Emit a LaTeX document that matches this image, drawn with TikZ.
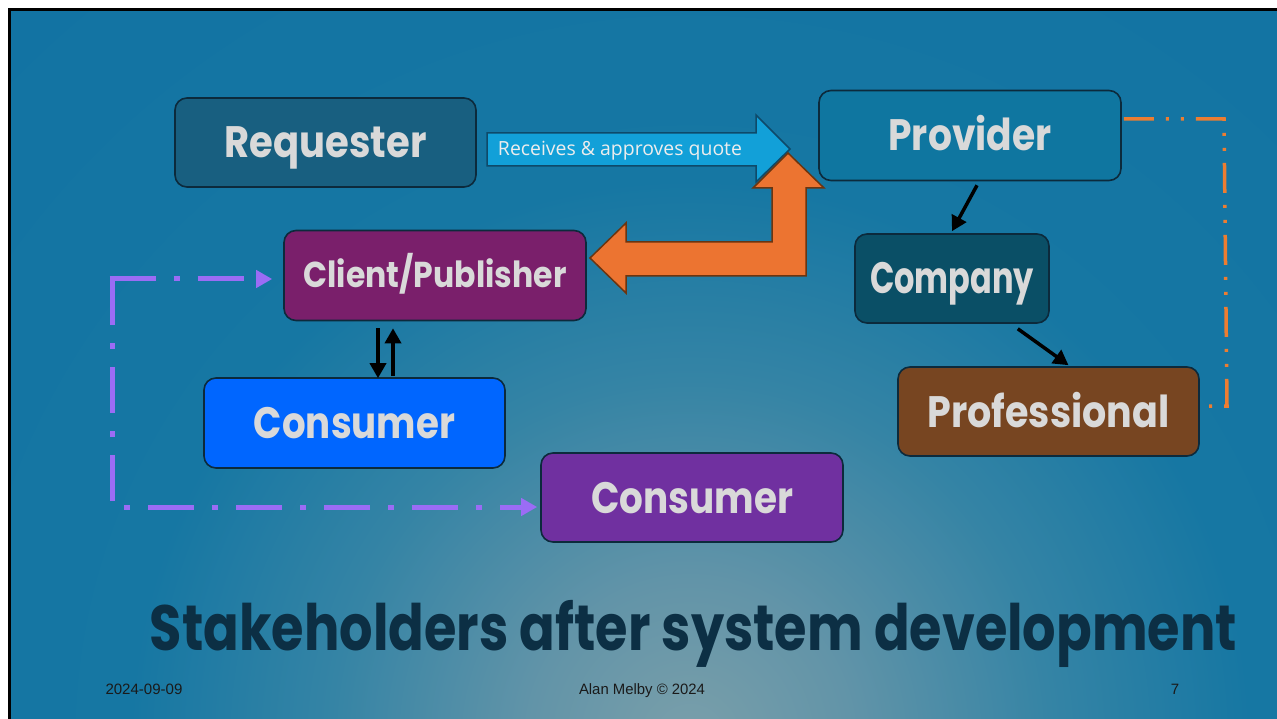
\documentclass[tikz,border=0pt]{standalone}
\usepackage{fontspec}
\usepackage{graphicx}
\usetikzlibrary{arrows.meta}
\newfontfamily\boxfont{Poppins}
\newfontfamily\lblfont{Open Sans}
\newfontfamily\footfont{Liberation Sans}
\definecolor{bgA}{HTML}{7A9FAA}
\definecolor{bgB}{HTML}{6294A8}
\definecolor{bgC}{HTML}{3584A5}
\definecolor{bgD}{HTML}{1677A3}
\definecolor{bgE}{HTML}{1273A3}
\definecolor{bgF}{HTML}{2166A6}
\definecolor{boxline}{HTML}{0C2A3C}
\definecolor{txtgrey}{HTML}{D9D9D9}
\definecolor{reqfill}{HTML}{185F80}
\definecolor{provfill}{HTML}{0F76A0}
\definecolor{compfill}{HTML}{0A4F66}
\definecolor{proffill}{HTML}{774521}
\definecolor{clientfill}{HTML}{7A1F6B}
\definecolor{consAfill}{HTML}{0066FF}
\definecolor{consBfill}{HTML}{7030A0}
\definecolor{bluearrow}{HTML}{12A0D8}
\definecolor{bluearrowline}{HTML}{0E4A6A}
\definecolor{orangefill}{HTML}{EC7431}
\definecolor{orangeline}{HTML}{6B3510}
\definecolor{orangedash}{HTML}{ED7D31}
\definecolor{purpledash}{HTML}{9B6CF5}
\definecolor{titlecol}{HTML}{0C2F44}
\definecolor{footcol}{HTML}{1A1A1A}
\pgfdeclareradialshading{bgshade}{\pgfpointorigin}{color(0bp)=(bgA); color(4bp)=(bgB); color(9bp)=(bgC); color(14bp)=(bgD); color(25bp)=(bgE); color(50bp)=(bgF)}
\newcommand\fitw[2]{\resizebox{#1}{\height}{#2}}
\tikzset{
  box/.style={draw=boxline, line width=1.6pt, rounded corners=12pt,
    minimum width=301pt, minimum height=89pt, inner sep=0pt, text=txtgrey,
    font=\boxfont\bfseries\fontsize{44}{44}\selectfont, text height=31pt, text depth=0pt},
  blk/.style={line width=3.5pt, -{Triangle[length=15pt,width=16pt]}},
  pdash/.style={draw=purpledash, line width=5pt, dash pattern=on 46pt off 18pt on 6pt off 18pt,
    -{Triangle[length=16pt,width=17pt]}},
  odash/.style={draw=orangedash, line width=3.5pt, dash pattern=on 30pt off 12pt on 3pt off 12pt on 3pt off 12pt},
  foot/.style={font=\footfont\fontsize{15}{15}\selectfont, text=footcol, inner sep=0pt, text height=11pt, text depth=0pt}
}
\begin{document}
\begin{tikzpicture}[x=1pt,y=-1pt]
\useasboundingbox (0,0) rectangle (1277,719);
% background
\begin{scope}
\clip (9.5,9.5) rectangle (1290,730);
\fill[bgF] (9.5,9.5) rectangle (1290,730);
\shade[shading=bgshade] (690,740) circle (1000pt);
\end{scope}
\draw[black, line width=3pt] (9.5,9.5) rectangle (1290,730);

% boxes
\node[box, fill=reqfill] (req) at (325.5,142.5) {\fitw{202pt}{Requester}};
\node[box, fill=provfill, minimum width=302pt, minimum height=90pt] (prov) at (970,135.5) {\fitw{163pt}{Provider}};
\node[box, fill=compfill, minimum width=194pt] (comp) at (952,278.5) {\fitw{164pt}{Company}};
\node[box, fill=proffill] (prof) at (1048.5,411.5) {\fitw{242pt}{Professional}};
\node[box, fill=clientfill, minimum width=302pt, minimum height=90pt,
  font=\boxfont\bfseries\fontsize{36}{36}\selectfont, text height=25pt] (client) at (435,275.5) {\fitw{263pt}{Client/Publisher}};
\node[box, fill=consAfill, minimum height=90pt] (consA) at (354.5,423) {\fitw{201pt}{Consumer}};
\node[box, fill=consBfill, minimum width=302pt] (consB) at (692,497.5) {\fitw{202pt}{Consumer}};

% blue block arrow
\draw[fill=bluearrow, draw=bluearrowline, line width=1.5pt, line join=miter]
  (487,133) -- (756,133) -- (756,115) -- (790,149) -- (756,182) -- (756,166) -- (487,166) -- cycle;
\node[font=\lblfont\fontsize{19.5}{19.5}\selectfont, text=white!93!black, inner sep=0pt,
  text height=14pt, text depth=0pt] (lbl) at (620,149) {\fitw{244pt}{Receives \& approves quote}};

% orange bent double arrow
\draw[fill=orangefill, draw=orangeline, line width=1.5pt, line join=miter]
  (590,258) -- (626,223) -- (626,242) -- (772,242) -- (772,188) -- (753,188) -- (788,153)
  -- (824,188) -- (806,188) -- (806,276) -- (626,276) -- (626,293) -- cycle;

% black arrows
\draw[blk] ([shift={(7,4)}]prov.south) -- ([shift={(0,-2)}]comp.north);
\draw[blk] ([shift={(-32,5)}]comp.south east) -- ([shift={(20,-1)}]prof.north);
\draw[blk] ([shift={(-57,7)}]client.south) -- ([shift={(23.5,1)}]consA.north);
\draw[blk] ([shift={(38.5,-1)}]consA.north) -- ([shift={(-42,7)}]client.south);

% purple dash-dot connectors
\coordinate (pc1) at (112,279);
\coordinate (pc2) at (112,507);
\draw[pdash, shorten >=11pt] ([xshift=-2.5pt]pc1) -- (pc1 -| client.west);
\draw[pdash, shorten >=3pt] (pc1) -- (pc2) -- (pc2 -| consB.west);

% orange dash-dot-dot connector
\coordinate (oc1) at (1224,119);
\coordinate (oc2) at (1227,406);
\draw[odash] ([shift={(2,-16.5)}]prov.east) -- (oc1) -- (oc2) -- ([shift={(0,-5.5)}]prof.east);

% title
\node[font=\boxfont\bfseries\fontsize{64}{64}\selectfont, text=titlecol, inner sep=0pt,
  text height=45pt, text depth=0pt] (title) at (693.5,627.5) {\fitw{1087pt}{Stakeholders after system development}};

% footer
\node[foot] (date) at (144,689) {\fitw{77pt}{2024-09-09}};
\node[foot] (author) at (642,689) {\fitw{126pt}{Alan Melby © 2024}};
\node[foot] (page) at (1175,689) {7};
\end{tikzpicture}
\end{document}
